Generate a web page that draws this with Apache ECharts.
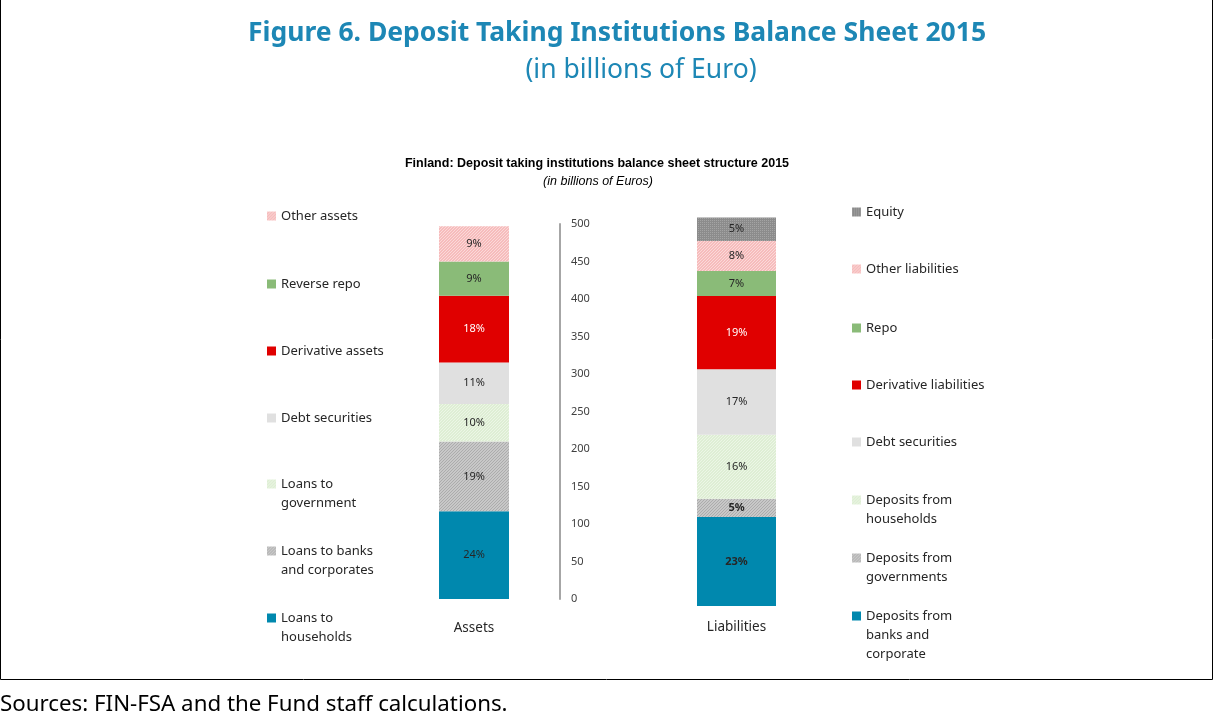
<!DOCTYPE html>
<html>
<head>
<meta charset="utf-8">
<script src="https://cdn.jsdelivr.net/npm/echarts@6/dist/echarts.min.js"></script>
<style>
  html, body { margin: 0; padding: 0; background: #fff; }
  #chart { width: 1214px; height: 713px; }
</style>
</head>
<body>
<div id="chart"></div>
<script>
// values in billions of euro, bottom to top of each column
const assetNames = ['Loans to households', 'Loans to banks and corporates', 'Loans to government',
  'Debt securities', 'Derivative assets', 'Reverse repo', 'Other assets'];
const assetValues = [117, 93, 50, 55.5, 89, 45.5, 47];
const assetShares = ['24%', '19%', '10%', '11%', '18%', '9%', '9%'];

const liabNames = ['Deposits from banks and corporate', 'Deposits from governments', 'Deposits from households',
  'Debt securities', 'Derivative liabilities', 'Repo', 'Other liabilities', 'Equity'];
const liabValues = [114, 23.5, 82, 84, 94, 32, 38.5, 30];
const liabShares = ['23%', '5%', '16%', '17%', '19%', '7%', '8%', '5%'];

const columns = ['Assets', 'Liabilities'];
const yMin = 0, yMax = 500, yStep = 50;

// legend labels as wrapped in the picture
const assetLegend = ['Loans to\nhouseholds', 'Loans to banks\nand corporates', 'Loans to\ngovernment',
  'Debt securities', 'Derivative assets', 'Reverse repo', 'Other assets'];
const liabLegend = ['Deposits from\nbanks and\ncorporate', 'Deposits from\ngovernments', 'Deposits from\nhouseholds',
  'Debt securities', 'Derivative liabilities', 'Repo', 'Other liabilities', 'Equity'];

const FONT = 'Noto Sans';

function pattern(bg, fg, size, test) {
  const c = document.createElement('canvas');
  c.width = size; c.height = size;
  const ctx = c.getContext('2d');
  const img = ctx.createImageData(size, size);
  const p = (h) => [parseInt(h.substr(1, 2), 16), parseInt(h.substr(3, 2), 16), parseInt(h.substr(5, 2), 16)];
  const a = p(bg), b = p(fg);
  for (let y = 0; y < size; y++) {
    for (let x = 0; x < size; x++) {
      const col = test(x, y) ? b : a;
      const i = (y * size + x) * 4;
      img.data[i] = col[0]; img.data[i + 1] = col[1]; img.data[i + 2] = col[2]; img.data[i + 3] = 255;
    }
  }
  ctx.putImageData(img, 0, 0);
  return { image: c, repeat: 'repeat' };
}
const diag = (x, y) => (x + y) % 3 === 0;
const pinkHatch = pattern('#f6bcbc', '#fbd9d9', 3, diag);
const greenHatch = pattern('#deeed4', '#ecf6e6', 3, diag);
const greyHatch = pattern('#c8c8c8', '#acacac', 3, diag);
const dots = pattern('#8c8c8c', '#a4a4a4', 2, (x, y) => x === 0 && y === 0);

const assetColors = ['#0088ae', greyHatch, greenHatch, '#e0e0e0', '#e00000', '#8abb78', pinkHatch];
const liabColors = ['#0088ae', greyHatch, greenHatch, '#e0e0e0', '#e00000', '#8abb78', pinkHatch, dots];

function barSeries(names, values, shares, colors, axis, stack, boldIdx) {
  return names.map((n, i) => ({
    name: n,
    type: 'bar',
    stack: stack,
    xAxisIndex: axis,
    yAxisIndex: axis,
    barWidth: axis === 0 ? 70 : 79,
    data: [values[i]],
    itemStyle: { color: colors[i] },
    label: {
      show: true,
      position: 'inside',
      formatter: shares[i],
      fontFamily: FONT,
      fontSize: 11,
      fontWeight: boldIdx.indexOf(i) >= 0 ? 'bold' : 'normal',
      color: colors[i] === '#e00000' ? '#ffffff' : '#262626'
    }
  }));
}

// legend: icon + first line from the legend component, further lines as text below it
const LH = 19;
const legends = [];
const extraLines = [];
function legendItem(name, label, x, cy) {
  const lines = label.split('\n');
  legends.push({
    left: x,
    top: cy - LH / 2,
    padding: 0,
    selectedMode: false,
    itemWidth: 9,
    itemHeight: 9,
    data: [{ name: name, icon: 'rect' }],
    formatter: () => lines[0],
    textStyle: { fontFamily: FONT, fontSize: 13, color: '#262626', lineHeight: LH }
  });
  if (lines.length > 1) {
    extraLines.push({
      text: lines.slice(1).join('\n'), left: x + 14, top: cy + LH / 2, padding: 0,
      textStyle: { fontFamily: FONT, fontSize: 13, fontWeight: 'normal', color: '#262626', lineHeight: LH }
    });
  }
}
const leftY = [618, 551, 484, 418, 351, 284, 216];
const rightY = [616, 558, 500, 442, 385, 328, 269, 212];
assetNames.forEach((n, i) => legendItem(n, assetLegend[i], 267, leftY[i]));
liabNames.forEach((n, i) => legendItem(n, liabLegend[i], 852, rightY[i]));

const chart = echarts.init(document.getElementById('chart'));
chart.setOption({
  animation: false,
  title: [
    { text: 'Figure 6. Deposit Taking Institutions Balance Sheet 2015', left: 612, top: 15, textAlign: 'center',
      textStyle: { fontFamily: FONT, fontSize: 26.5, fontWeight: 'bold', color: '#1d87b5' } },
    { text: '(in billions of Euro)', left: 636, top: 52, textAlign: 'center',
      textStyle: { fontFamily: FONT, fontSize: 26.5, fontWeight: 'normal', color: '#1d87b5' } },
    { text: 'Finland: Deposit taking institutions balance sheet structure 2015', left: 592, top: 152, textAlign: 'center',
      textStyle: { fontFamily: 'Liberation Sans', fontSize: 12.5, fontWeight: 'bold', color: '#000' } },
    { text: '(in billions of Euros)', left: 593, top: 170, textAlign: 'center',
      textStyle: { fontFamily: 'Liberation Sans', fontSize: 12.5, fontStyle: 'italic', fontWeight: 'normal', color: '#000' } },
    { text: 'Sources: FIN-FSA and the Fund staff calculations.', left: 0, top: 694, padding: 0,
      textStyle: { fontFamily: FONT, fontSize: 22.3, fontWeight: 'normal', color: '#000' } }
  ].concat(extraLines),
  legend: legends,
  grid: [
    { left: 388, width: 172, top: 224, height: 375 },
    { left: 650, width: 173, top: 216, height: 390 }
  ],
  xAxis: [
    { type: 'category', gridIndex: 0, data: [columns[0]], axisLine: { show: false }, axisTick: { show: false },
      axisLabel: { margin: 22, fontFamily: FONT, fontSize: 13.5, color: '#262626' } },
    { type: 'category', gridIndex: 1, data: [columns[1]], axisLine: { show: false }, axisTick: { show: false },
      axisLabel: { margin: 14, fontFamily: FONT, fontSize: 13.5, color: '#262626' } }
  ],
  yAxis: [
    { type: 'value', gridIndex: 0, position: 'right', min: yMin, max: yMax, interval: yStep,
      axisLine: { show: true, lineStyle: { color: '#a6a6a6', width: 2 } },
      axisTick: { show: false }, splitLine: { show: false },
      axisLabel: { margin: 11, fontFamily: FONT, fontSize: 11, color: '#404040' } },
    { type: 'value', gridIndex: 1, min: yMin, max: yMax, show: false, splitLine: { show: false } }
  ],
  graphic: [
    { type: 'polyline', silent: true, shape: { points: [[0.5, -2], [0.5, 679.5], [1212.5, 679.5], [1212.5, -2]] },
      style: { stroke: '#000', lineWidth: 1, fill: null } }
  ],
  series: barSeries(assetNames, assetValues, assetShares, assetColors, 0, 'assets', [])
    .concat(barSeries(liabNames, liabValues, liabShares, liabColors, 1, 'liab', [0, 1]))
});
</script>
</body>
</html>
